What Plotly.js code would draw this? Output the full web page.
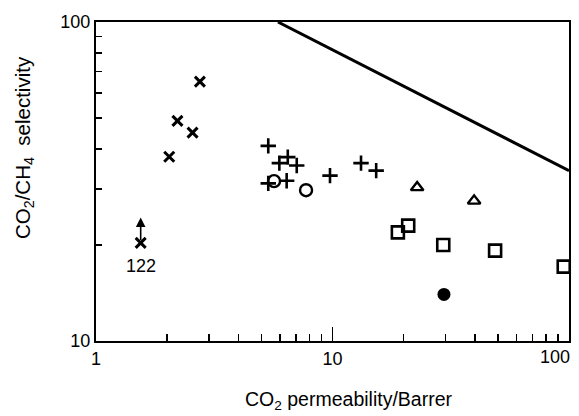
<!DOCTYPE html>
<html>
<head>
<meta charset="utf-8">
<script src="https://cdn.plot.ly/plotly-3.0.1.min.js"></script>
<style>html,body{margin:0;padding:0;background:#fff;}#chart{width:579px;height:416px;}</style>
</head>
<body>
<div id="chart"></div>
<script>
// Data (CO2 permeability / Barrer, CO2/CH4 selectivity)
const crossX = [2.04, 2.21, 2.56, 2.75, 1.545];
const crossY = [37.8, 49.0, 45.0, 65.0, 20.3];
const plusX = [5.35, 5.96, 6.47, 7.06, 5.35, 6.40, 9.76, 13.2, 15.3];
const plusY = [40.9, 36.1, 37.7, 35.5, 31.2, 31.8, 33.0, 36.1, 34.2];
const circleX = [5.66, 7.73];
const circleY = [31.7, 29.7];
const triX = [22.8, 39.7];
const triY = [30.3, 27.5];
const squareX = [18.9, 20.9, 29.4, 48.7, 95.0];
const squareY = [21.9, 23.0, 20.0, 19.2, 17.1];
const filledX = [29.6];
const filledY = [14.0];
const boundX = [5.88, 100];
const boundY = [100, 34.2];
// arrow on the sample labelled 122 (value is a lower bound)
const arrowX = 1.545;
const arrowTopY = 24.4;
const arrowLabel = '122';
const xTickVals = [1, 10, 100];
const xTickText = ['1', '10', ''];
const xEndLabel = '100';   // drawn right-aligned at the axis end, as in the reference
const yTickVals = [10, 100];
const yTickText = ['10', '100'];
const xMinor = [2,3,4,5,6,7,8,9,20,30,40,50,60,70,80,90];
const yMinor = [20,30,40,50,60,70,80,90];

const FONT = 'Liberation Sans, Arial, sans-serif';
const BLK = '#000';
const traces = [
  {x: boundX, y: boundY, mode: 'lines', line: {color: BLK, width: 3}},
  {x: crossX, y: crossY, mode: 'markers', marker: {symbol: 'x-thin-open', size: 10, color: BLK, line: {color: BLK, width: 3}}},
  {x: plusX, y: plusY, mode: 'markers', marker: {symbol: 'cross-thin-open', size: 11, color: BLK, line: {color: BLK, width: 2.6}}},
  {x: circleX, y: circleY, mode: 'markers', marker: {symbol: 'circle-open', size: 12, color: BLK, line: {color: BLK, width: 2.4}}},
  {x: triX, y: triY, mode: 'markers', marker: {symbol: 'triangle-up-open', size: 11, color: BLK, line: {color: BLK, width: 2.4}}},
  {x: squareX, y: squareY, mode: 'markers', marker: {symbol: 'square-open', size: 12, color: BLK, line: {color: BLK, width: 2.6}}, cliponaxis: false},
  {x: filledX, y: filledY, mode: 'markers', marker: {symbol: 'circle', size: 13, color: BLK}}
];

const axisCommon = {
  type: 'log', showgrid: false, zeroline: false, showline: true, linecolor: BLK, linewidth: 2,
  mirror: true, ticks: 'inside', tickcolor: BLK, tickwidth: 1.5,
  tickfont: {family: FONT, size: 18, color: BLK}, tickmode: 'array'
};

const layout = {
  width: 579, height: 416,
  margin: {l: 96, r: 10, t: 22, b: 75},
  paper_bgcolor: '#fff', plot_bgcolor: '#fff',
  showlegend: false,
  font: {family: FONT, size: 18, color: BLK},
  xaxis: Object.assign({}, axisCommon, {
    range: [-0.00001, 2.00001], tickvals: xTickVals, ticktext: xTickText, ticklen: 14,
    minor: {tickmode: 'array', tickvals: xMinor, ticks: 'inside', ticklen: 7, tickcolor: BLK, tickwidth: 1.5}
  }),
  yaxis: Object.assign({}, axisCommon, {
    range: [0.99999, 2.00001], tickvals: yTickVals, ticktext: yTickText, ticklen: 14,
    minor: {tickmode: 'array', tickvals: yMinor, ticks: 'inside', ticklen: 6, tickcolor: BLK, tickwidth: 1.5}
  }),
  annotations: [
    {x: Math.log10(arrowX), y: Math.log10(arrowTopY), xref: 'x', yref: 'y', showarrow: true, ax: 0, ay: 24,
     arrowhead: 2, arrowsize: 1.2, arrowwidth: 1.6, arrowcolor: BLK, text: ''},
    {x: Math.log10(arrowX), y: Math.log10(crossY[4]), xref: 'x', yref: 'y', showarrow: false, yshift: -23,
     text: arrowLabel, font: {family: FONT, size: 18, color: BLK}},
    {x: Math.log10(xTickVals[2]), y: 0, xref: 'x', yref: 'paper', showarrow: false, xanchor: 'right', yanchor: 'top',
     xshift: 3, yshift: -4, text: xEndLabel, font: {family: FONT, size: 18, color: BLK}},
    {x: 0.533, y: -0.185, xref: 'paper', yref: 'paper', showarrow: false, xanchor: 'center', yanchor: 'middle',
     text: 'CO<sub>2</sub> permeability/Barrer', font: {family: FONT, size: 19.5, color: BLK}},
    {x: -0.152, y: 0.605, xref: 'paper', yref: 'paper', showarrow: false, xanchor: 'center', yanchor: 'middle',
     textangle: -90, text: 'CO<sub>2</sub>/CH<sub>4</sub>\u00a0\u00a0selectivity', font: {family: FONT, size: 20.5, color: BLK}}
  ]
};

Plotly.newPlot('chart', traces, layout, {staticPlot: true, displayModeBar: false});
</script>
</body>
</html>
